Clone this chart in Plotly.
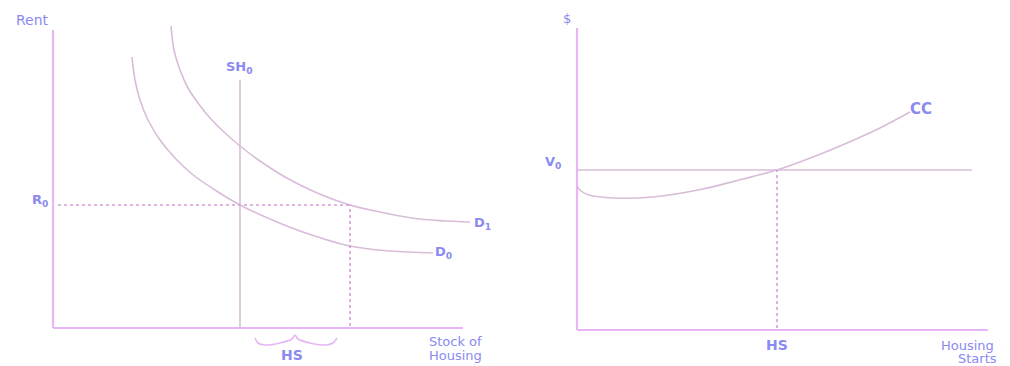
import plotly.graph_objects as go

# ---------------- Left panel: stock of housing vs rent ----------------
d0_x = [79, 82, 87, 95, 107, 122, 139, 162, 187, 217, 247, 297, 337, 380]
d0_y = [271, 248, 228, 208, 188, 170, 154, 138, 123, 109, 97, 82, 77, 75]
d1_x = [118, 121, 127, 135, 145, 157, 171, 187, 207, 232, 262, 297, 332, 367, 417]
d1_y = [302, 278, 258, 240, 225, 210, 196, 182, 167, 151, 136, 123, 115, 109, 106]
sh0_x = 187
sh0_top = 248
r0 = 123
hs_stock = 297
left_axis_x_max = 410
left_axis_y_max = 298
brace_x = [202, 205, 212, 227, 239, 242, 245, 257, 272, 280, 284]
brace_y = [-10, -15, -17, -15, -11, -7, -11, -15, -17, -15, -10]

# ---------------- Right panel: housing starts vs $ ----------------
cc_x = [0, 4, 12, 36, 76, 126, 166, 200, 236, 270, 303, 333]
cc_y = [144, 139, 135, 132, 133, 141, 151, 160, 173, 187, 202, 218]
v0 = 160
v0_end = 395
hs_starts = 200
right_axis_x_max = 411
right_axis_y_max = 302

AXIS = "#e8b6f4"
CURVE = "#d8bdd9"
DOT = "#d39fd6"
LBL = "#8a8af0"

fig = go.Figure()

def line(x, y, color, width, dash="solid", xa="x", ya="y", smooth=1.0):
    fig.add_trace(go.Scatter(x=x, y=y, mode="lines", xaxis=xa, yaxis=ya,
                             line=dict(color=color, width=width, dash=dash,
                                       shape="spline", smoothing=smooth),
                             hoverinfo="skip", showlegend=False))

# left panel
line([0, 0], [0, left_axis_y_max], AXIS, 2.2)
line([0, left_axis_x_max], [0, 0], AXIS, 2.2)
line([sh0_x, sh0_x], [0, sh0_top], CURVE, 1.6)
line(d0_x, d0_y, CURVE, 1.6)
line(d1_x, d1_y, CURVE, 1.6)
line([5, hs_stock], [r0, r0], DOT, 1.6, "dot")
line([hs_stock, hs_stock], [2, r0], DOT, 1.6, "dot")
line(brace_x, brace_y, AXIS, 1.6, smooth=0.8)

# right panel
line([0, 0], [0, right_axis_y_max], AXIS, 2.2, xa="x2", ya="y2")
line([0, right_axis_x_max], [0, 0], AXIS, 2.2, xa="x2", ya="y2")
line([0, v0_end], [v0, v0], CURVE, 1.6, xa="x2", ya="y2")
line(cc_x, cc_y, CURVE, 1.6, xa="x2", ya="y2", smooth=0.8)
line([hs_starts, hs_starts], [2, v0], DOT, 1.6, "dot", xa="x2", ya="y2")

def label(x, y, text, xa="x", ya="y", anchor="center", size=14, bold=True, color=LBL):
    fig.add_annotation(x=x, y=y, xref=xa, yref=ya, text=("<b>%s</b>" % text) if bold else text,
                       showarrow=False, xanchor=anchor, yanchor="middle",
                       font=dict(family="DejaVu Sans", size=size, color=color))

label(-21, 308, "Rent", size=14, bold=False)
label(186, 261, "SH<sub>0</sub>", size=13)
label(-13, 128, "R<sub>0</sub>", size=13)
label(419, 105, "D<sub>1</sub>", anchor="left", size=13)
label(380, 76, "D<sub>0</sub>", anchor="left", size=13)
label(239, -27, "HS", size=14)
label(374, -13, "Stock of", anchor="left", bold=False, size=13)
label(374, -27, "Housing", anchor="left", bold=False, size=13)

label(-10, 312, "$", xa="x2", ya="y2", size=13, bold=False)
label(-24, 168, "V<sub>0</sub>", xa="x2", ya="y2", size=13)
label(331, 221, "CC", xa="x2", ya="y2", anchor="left", size=15)
label(hs_starts, -15, "HS", xa="x2", ya="y2", size=14)
label(362, -15, "Housing", xa="x2", ya="y2", anchor="left", bold=False, size=13)
label(400, -28, "Starts", xa="x2", ya="y2", bold=False, size=13)

ax = dict(visible=False, showgrid=False, zeroline=False, fixedrange=True)
fig.update_layout(
    width=1010, height=366,
    margin=dict(l=0, r=0, t=0, b=0),
    paper_bgcolor="white", plot_bgcolor="white",
    xaxis=dict(domain=[0, 0.5], range=[-53, 452], **ax),
    yaxis=dict(domain=[0, 1], range=[-38, 328], **ax),
    xaxis2=dict(domain=[0.5, 1], range=[-72, 433], anchor="y2", **ax),
    yaxis2=dict(domain=[0, 1], range=[-36, 330], anchor="x2", **ax),
    showlegend=False,
)

fig.write_html("out.html", config={"displayModeBar": False},
               post_script="document.body.style.margin='0';document.body.style.overflow='hidden';")
